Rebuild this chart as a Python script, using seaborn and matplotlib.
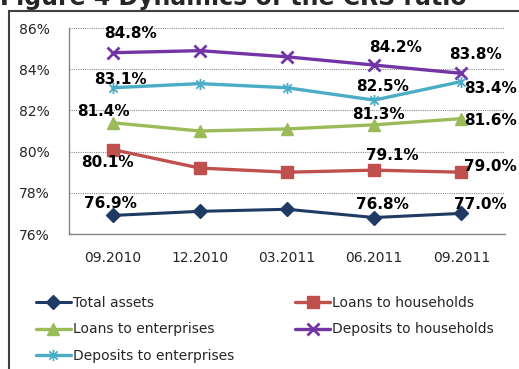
import matplotlib
matplotlib.use("Agg")
import matplotlib.pyplot as plt
from matplotlib.path import Path
from matplotlib.patches import Rectangle
import seaborn as sns
import pandas as pd

# Quarterly CRS ratio, percent
periods = ["09.2010", "12.2010", "03.2011", "06.2011", "09.2011"]
total_assets = [76.9, 77.1, 77.2, 76.8, 77.0]
loans_households = [80.1, 79.2, 79.0, 79.1, 79.0]
loans_enterprises = [81.4, 81.0, 81.1, 81.3, 81.6]
deposits_households = [84.8, 84.9, 84.6, 84.2, 83.8]
deposits_enterprises = [83.1, 83.3, 83.1, 82.5, 83.4]

series_names = ["Total assets", "Loans to households", "Loans to enterprises",
                "Deposits to households", "Deposits to enterprises"]
series_values = [total_assets, loans_households, loans_enterprises,
                 deposits_households, deposits_enterprises]

# periods whose values get a printed label
labelled_periods = ["09.2010", "06.2011", "09.2011"]

sns.set_style("white")
plt.rcParams["font.family"] = ["DejaVu Sans"]

# star marker: an x crossed by a vertical bar
star = Path([(0, -1), (0, 1), (-0.75, -0.75), (0.75, 0.75), (-0.75, 0.75), (0.75, -0.75)],
            [Path.MOVETO, Path.LINETO, Path.MOVETO, Path.LINETO, Path.MOVETO, Path.LINETO])

styles = {
    "Total assets": dict(color="#1F3B64", marker="D", ms=7, lw=2.2),
    "Loans to households": dict(color="#C0504D", marker="s", ms=8, lw=2.4),
    "Loans to enterprises": dict(color="#9BBB59", marker="^", ms=8.5, lw=2.4),
    "Deposits to households": dict(color="#7335A5", marker="x", ms=8, lw=2.4, mew=2.0),
    "Deposits to enterprises": dict(color="#4BACC6", marker=star, ms=8, lw=2.4, mew=1.3),
}

# label offsets in pixels (dx right, dy down) for each series at each labelled period
label_offsets = {
    "Total assets": [(-2, -12), (8, -13), (19, -9)],
    "Loans to households": [(-5, 13), (18, -15), (29, -6)],
    "Loans to enterprises": [(-9, -11), (4, -10), (29, 2)],
    "Deposits to households": [(18, -19), (21, -18), (14, -19)],
    "Deposits to enterprises": [(8, -8), (8, -14), (29, 7)],
}

rows = []
for name, vals in zip(series_names, series_values):
    for i, (p, v) in enumerate(zip(periods, vals)):
        rows.append({"series": name, "period": p, "pos": i, "value": v})
df = pd.DataFrame(rows)

W, H = 519, 369
fig = plt.figure(figsize=(W / 100, H / 100), dpi=100)
ax = fig.add_axes([69 / W, 1 - 234 / H, (505 - 69) / W, (234 - 28) / H])

handles = {}
for name in series_names:
    st = styles[name]
    sub = df[df["series"] == name]
    sns.lineplot(data=sub, x="pos", y="value", ax=ax, color=st["color"],
                 linewidth=st["lw"], marker=st["marker"], markersize=st["ms"],
                 markeredgewidth=st.get("mew", 1.0), markeredgecolor=st["color"],
                 markerfacecolor=st["color"], label=name, legend=False)
    handles[name] = ax.lines[-1]

px = 0.72  # points per pixel at 100 dpi
for name in series_names:
    sub = df[df["series"] == name]
    for (dx, dy), p in zip(label_offsets[name], labelled_periods):
        row = sub[sub["period"] == p].iloc[0]
        ax.annotate(f"{row['value']:.1f}%", (row["pos"], row["value"]),
                    xytext=(dx * px, -dy * px), textcoords="offset points",
                    ha="center", va="center", fontsize=11, fontweight="bold",
                    color="black", annotation_clip=False)

ax.set_xlim(-0.5, len(periods) - 0.5)
ax.set_ylim(76, 86)
ax.set_yticks([76, 78, 80, 82, 84, 86])
ax.set_yticklabels([f"{t}%" for t in [76, 78, 80, 82, 84, 86]], fontsize=10)
ax.set_xticks([i - 0.5 for i in range(len(periods) + 1)])
ax.set_xticklabels([])
ax.set_xticks(range(len(periods)), minor=True)
ax.set_xticklabels(periods, minor=True, fontsize=10)
ax.tick_params(axis="x", which="major", length=5, width=1, color="#868686", direction="out")
ax.tick_params(axis="x", which="minor", length=0, pad=12)
ax.tick_params(axis="y", length=4, width=1, color="#868686", direction="out", pad=10)
ax.set_xlabel("")
ax.set_ylabel("")

ax.yaxis.grid(True, color="#8C8C8C", linestyle=(0, (1, 1)), linewidth=0.8)
ax.set_axisbelow(True)
for side in ["top", "right"]:
    ax.spines[side].set_visible(False)
for side in ["left", "bottom"]:
    ax.spines[side].set_color("#868686")
    ax.spines[side].set_linewidth(1.0)

order = ["Total assets", "Loans to enterprises", "Deposits to enterprises",
         "Loans to households", "Deposits to households"]
fig.legend([handles[n] for n in order], order, ncol=2, loc="upper left",
           bbox_to_anchor=(36 / W, 1 - 296 / H), frameon=False, fontsize=10,
           handlelength=2.5, handletextpad=0.15, columnspacing=4.4,
           labelspacing=0.9, numpoints=1, borderaxespad=0, borderpad=0)

# outer frame and the title above it
top = 1 - 11 / H
fig.patches.append(Rectangle((8.5 / W, -0.2), 1.2, top + 0.2,
                             transform=fig.transFigure, fill=False,
                             edgecolor="#404040", linewidth=1.5))
fig.text(0 / W, 1 - 4.5 / H, "Figure 4 Dynamics of the CRS ratio", fontsize=17,
         fontweight="bold", ha="left", va="baseline")

fig.savefig("out.png", dpi=100)
